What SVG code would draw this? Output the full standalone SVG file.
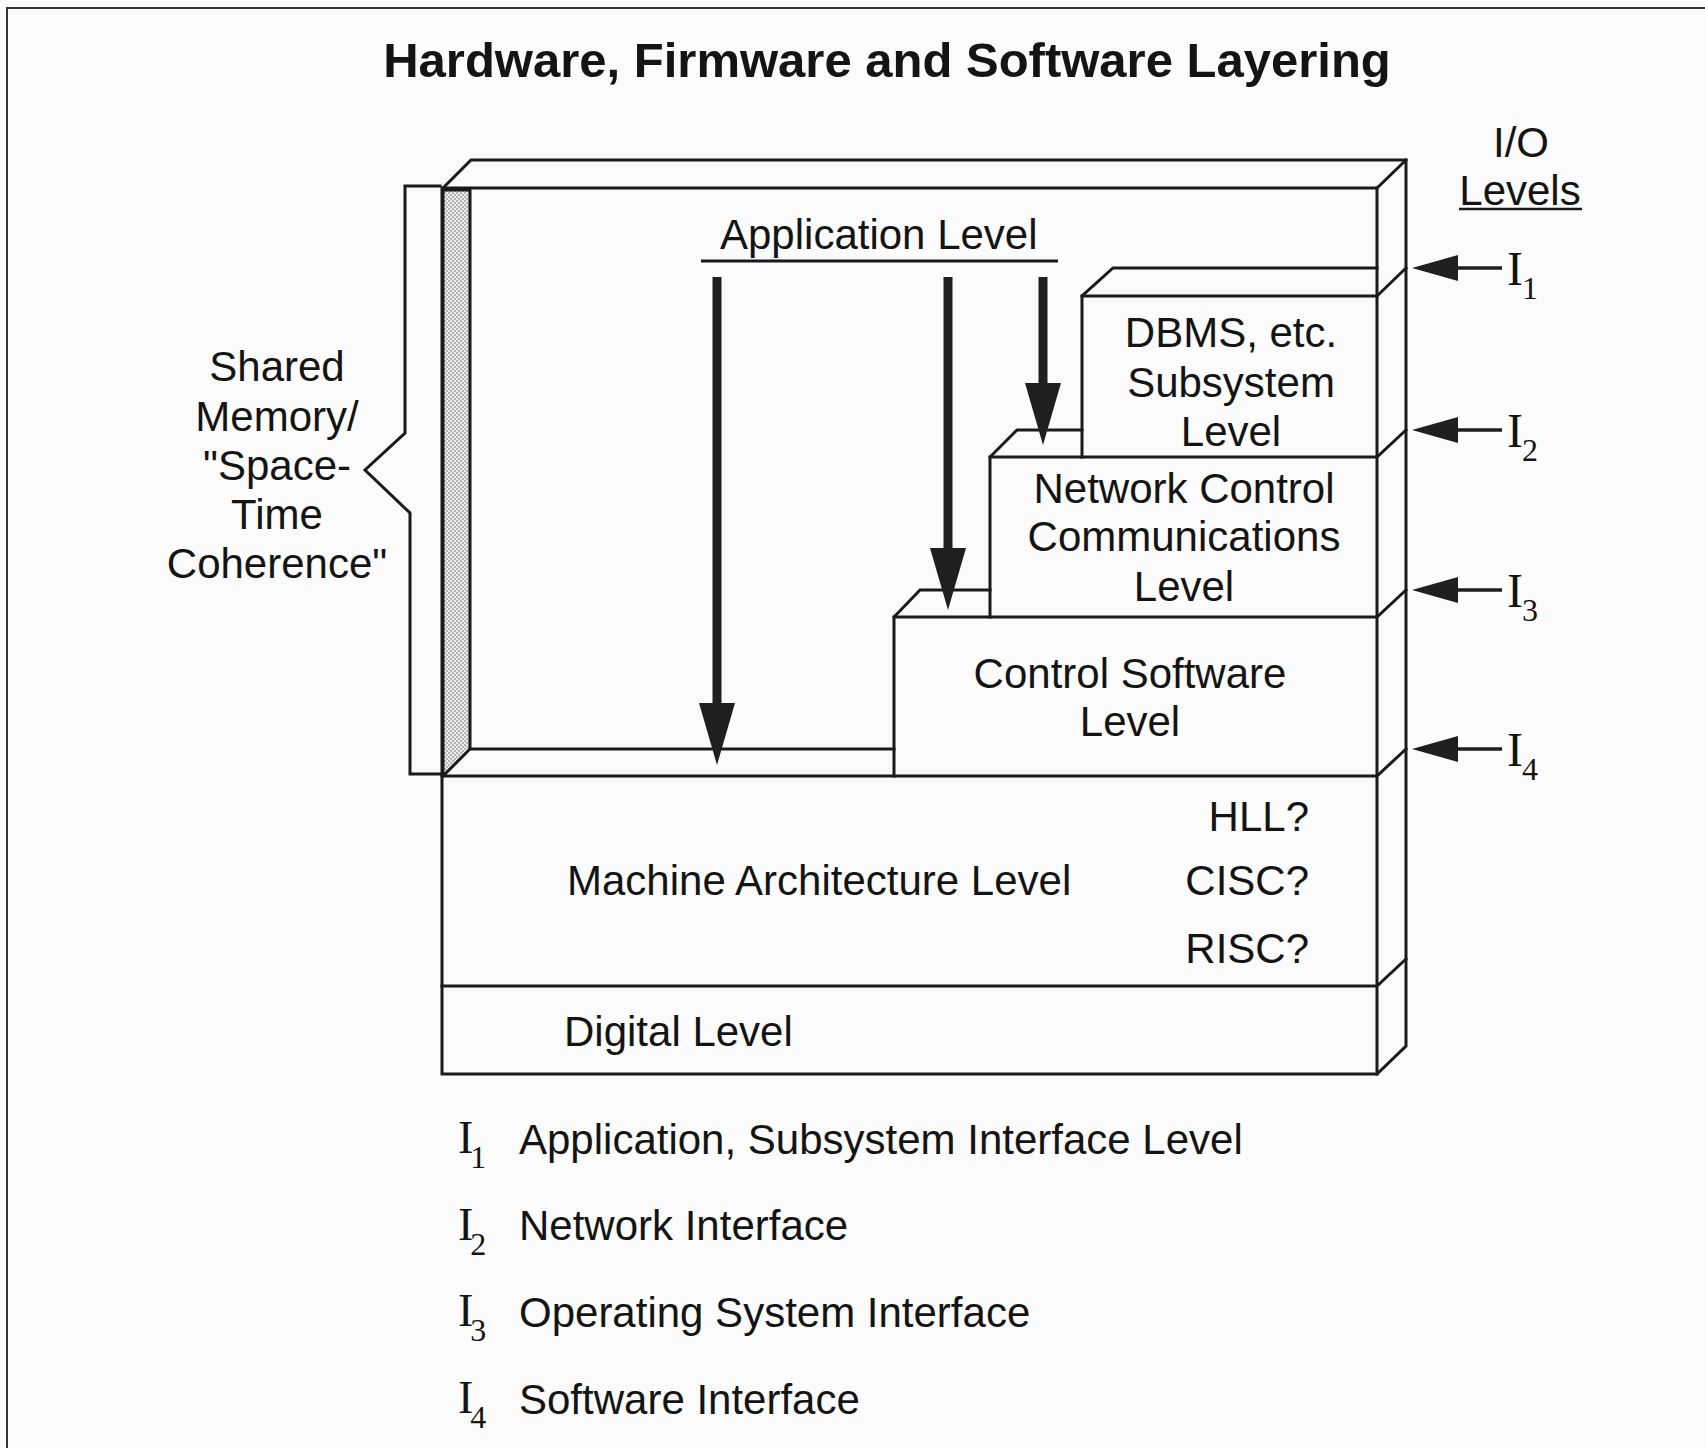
<svg xmlns="http://www.w3.org/2000/svg" width="1705" height="1448" viewBox="0 0 1705 1448">
  <defs>
    <style>
      .t { font-family: "Liberation Sans", Arial, Helvetica, sans-serif; font-size: 42px; fill: #141414; }
      .c { text-anchor: middle; }
      .title { font-weight: bold; font-size: 49px; }
      .ser { font-family: "Liberation Serif", "Times New Roman", serif; font-size: 48px; fill: #141414; }
      .leg { font-size: 46px; }
      .sub { font-size: 32px; }
      .ln { stroke: #1a1a1a; stroke-width: 3; fill: none; stroke-linejoin: miter; stroke-linecap: square; }
      .shaft { stroke: #1f1f1f; stroke-width: 9; fill: none; }
      .io { stroke: #1f1f1f; stroke-width: 3.5; fill: none; }
      .frame { stroke: #333; stroke-width: 2; fill: none; }
    </style>
    <pattern id="dots" width="4" height="4" patternUnits="userSpaceOnUse">
      <rect width="4" height="4" fill="#ececec"/>
      <circle cx="1" cy="1" r="0.8" fill="#6a6a6a"/>
      <circle cx="3" cy="3" r="0.8" fill="#6a6a6a"/>
    </pattern>
    <marker id="downHead" viewBox="0 0 62 36" markerWidth="62" markerHeight="36" refX="17" refY="18" orient="auto" markerUnits="userSpaceOnUse">
      <path d="M0,0 L62,18 L0,36 Z" fill="#1f1f1f"/>
    </marker>
    <marker id="ioHead" viewBox="0 0 46 26" markerWidth="46" markerHeight="26" refX="18" refY="13" orient="auto" markerUnits="userSpaceOnUse">
      <path d="M0,0 L46,13 L0,26 Z" fill="#1f1f1f"/>
    </marker>
  </defs>

  <rect x="0" y="0" width="1705" height="1448" fill="#fbfbfb"/>

  <g id="frame">
    <path class="frame" d="M7,1448 L7,8 L1705,8"/>
  </g>

  <g id="title">
    <text class="t title c" x="887" y="77">Hardware, Firmware and Software Layering</text>
  </g>

  <g id="outer-box">
    <path class="ln" d="M443,188 L471,160 L1406,160 L1406,1046 L1377,1074 L442,1074 L442,188 Z"/>
    <path class="ln" d="M443,188 L1377,188 L1406,160"/>
    <path class="ln" d="M1377,188 L1377,1074"/>
  </g>

  <g id="shared-strip">
    <path d="M443,190 L470,190 L470,749 L443,776 Z" fill="url(#dots)" stroke="#1a1a1a" stroke-width="3"/>
  </g>

  <g id="shared-memory-label">
    <path class="ln" d="M440,186 L405,186 L405,433 L365,470 L410,513 L410,774 L440,774"/>
    <text class="t c" x="277" y="381">Shared</text>
    <text class="t c" x="277" y="431">Memory/</text>
    <text class="t c" x="277" y="480">"Space-</text>
    <text class="t c" x="277" y="529">Time</text>
    <text class="t c" x="277" y="578">Coherence"</text>
  </g>

  <g id="application-level">
    <text class="t" x="720" y="249">Application Level</text>
    <line x1="701" y1="261" x2="1058" y2="261" stroke="#1a1a1a" stroke-width="3"/>
    <path class="ln" d="M470,749 L894,749"/>
  </g>

  <g id="dbms-level">
    <path class="ln" d="M1082,457 L1082,296 L1113,268 L1377,268"/>
    <path class="ln" d="M1082,296 L1377,296"/>
    <path class="ln" d="M1377,296 L1406,268"/>
    <text class="t c" x="1231" y="347">DBMS, etc.</text>
    <text class="t c" x="1231" y="397">Subsystem</text>
    <text class="t c" x="1231" y="446">Level</text>
  </g>

  <g id="network-level">
    <path class="ln" d="M990,617 L990,457 L1017,430 L1082,430"/>
    <path class="ln" d="M990,457 L1377,457 L1406,430"/>
    <text class="t c" x="1184" y="503">Network Control</text>
    <text class="t c" x="1184" y="551">Communications</text>
    <text class="t c" x="1184" y="601">Level</text>
  </g>

  <g id="control-software-level">
    <path class="ln" d="M894,776 L894,617 L920,590 L990,590"/>
    <path class="ln" d="M894,617 L1377,617 L1406,590"/>
    <text class="t c" x="1130" y="688">Control Software</text>
    <text class="t c" x="1130" y="736">Level</text>
  </g>

  <g id="machine-architecture-level">
    <path class="ln" d="M442,776 L1377,776 L1406,749"/>
    <text class="t" x="567" y="895">Machine Architecture Level</text>
    <text class="t" x="1309" y="831" text-anchor="end">HLL?</text>
    <text class="t" x="1309" y="895" text-anchor="end">CISC?</text>
    <text class="t" x="1309" y="963" text-anchor="end">RISC?</text>
  </g>

  <g id="digital-level">
    <path class="ln" d="M442,986 L1377,986 L1406,959"/>
    <text class="t" x="564" y="1046">Digital Level</text>
  </g>

  <g id="io-levels-header">
    <text class="t c" x="1521" y="157">I/O</text>
    <text class="t c" x="1520" y="205">Levels</text>
    <line x1="1459" y1="209" x2="1582" y2="209" stroke="#1a1a1a" stroke-width="2.5"/>
  </g>

  <g id="io-labels">
    <text class="ser" x="1507" y="285">I<tspan class="sub" dx="-1" dy="14">1</tspan></text>
    <text class="ser" x="1507" y="447">I<tspan class="sub" dx="-1" dy="14">2</tspan></text>
    <text class="ser" x="1507" y="607">I<tspan class="sub" dx="-1" dy="14">3</tspan></text>
    <text class="ser" x="1507" y="766">I<tspan class="sub" dx="-1" dy="14">4</tspan></text>
  </g>

  <g id="connectors">
    <line class="shaft" x1="717" y1="277" x2="717" y2="720" marker-end="url(#downHead)"/>
    <line class="shaft" x1="948" y1="277" x2="948" y2="565" marker-end="url(#downHead)"/>
    <line class="shaft" x1="1043" y1="277" x2="1043" y2="400" marker-end="url(#downHead)"/>
    <line class="io" x1="1502" y1="268" x2="1440" y2="268" marker-end="url(#ioHead)"/>
    <line class="io" x1="1502" y1="430" x2="1440" y2="430" marker-end="url(#ioHead)"/>
    <line class="io" x1="1502" y1="590" x2="1440" y2="590" marker-end="url(#ioHead)"/>
    <line class="io" x1="1502" y1="749" x2="1440" y2="749" marker-end="url(#ioHead)"/>
  </g>

  <g id="legend">
    <text class="ser leg" x="458" y="1153">I<tspan class="sub" dx="-3" dy="15">1</tspan></text>
    <text class="t" x="519" y="1154">Application, Subsystem Interface Level</text>
    <text class="ser leg" x="458" y="1240">I<tspan class="sub" dx="-3" dy="15">2</tspan></text>
    <text class="t" x="519" y="1240">Network Interface</text>
    <text class="ser leg" x="458" y="1326">I<tspan class="sub" dx="-3" dy="15">3</tspan></text>
    <text class="t" x="519" y="1327">Operating System Interface</text>
    <text class="ser leg" x="458" y="1413">I<tspan class="sub" dx="-3" dy="15">4</tspan></text>
    <text class="t" x="519" y="1414">Software Interface</text>
  </g>
</svg>
